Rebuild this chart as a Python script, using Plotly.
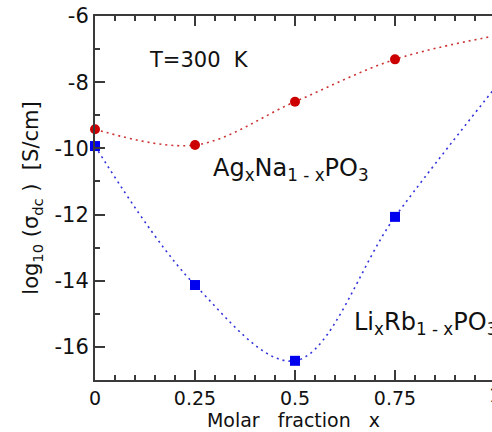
import plotly.graph_objects as go

x_frac = [0, 0.25, 0.5, 0.75, 1.0]
ag_na = [-9.42, -9.90, -8.59, -7.31, -6.60]
li_rb = [-9.93, -14.13, -16.42, -12.07, -8.17]

x_tickvals = [0, 0.25, 0.5, 0.75]
x_ticktext = ["0", "0.25", "0.5", "0.75"]
y_tickvals = [-16, -14, -12, -10, -8, -6]
y_ticktext = ["-16", "-14", "-12", "-10", "-8", "-6"]

FONT = "DejaVu Sans"
AX = "#3a3a3a"

fig = go.Figure()
fig.add_trace(go.Scatter(
    x=x_frac, y=ag_na, mode="lines+markers", line_shape="spline",
    line=dict(color="#cc3333", width=1.6, dash="2px,4px"),
    marker=dict(symbol="circle", size=10, color="#cc0000"),
    cliponaxis=False, showlegend=False))
fig.add_trace(go.Scatter(
    x=x_frac, y=li_rb, mode="lines+markers", line_shape="spline",
    line=dict(color="#3333dd", width=1.6, dash="2px,4px"),
    marker=dict(symbol="square", size=10, color="#0000ee"),
    cliponaxis=False, showlegend=False))

fig.update_layout(
    width=492, height=432,
    margin=dict(l=95, r=0, t=16, b=52),
    paper_bgcolor="white", plot_bgcolor="white",
    font=dict(family=FONT, size=20, color="#111111"),
    xaxis=dict(
        range=[0, 0.9925], showgrid=False, zeroline=False,
        showline=True, linecolor=AX, linewidth=2, mirror="ticks",
        ticks="inside", ticklen=10, tickwidth=1.5, tickcolor=AX,
        tickvals=x_tickvals, ticktext=x_ticktext,
        tickfont=dict(family=FONT, size=19), ticklabelstandoff=0,
        minor=dict(dtick=0.05, ticks="inside", ticklen=5, tickwidth=1.5, tickcolor=AX),
        title=dict(text="Molar\u00a0\u00a0 fraction\u00a0\u00a0 x", font=dict(family=FONT, size=19), standoff=0),
    ),
    yaxis=dict(
        range=[-17, -6], showgrid=False, zeroline=False,
        showline=True, linecolor=AX, linewidth=2, mirror=False,
        ticks="inside", ticklen=10, tickwidth=1.5, tickcolor=AX,
        tickvals=y_tickvals, ticktext=y_ticktext, tickfont=dict(family=FONT, size=21),
        minor=dict(dtick=1, ticks="inside", ticklen=5, tickwidth=1.5, tickcolor=AX),
        title=dict(text="log<sub>10</sub>\u00a0(σ<sub>dc</sub>\u00a0)\u00a0 [S/cm]", font=dict(family=FONT, size=21), standoff=10),
    ),
    annotations=[
        dict(text="1", xref="paper", yref="paper", x=1/0.9925, y=0, yanchor="top",
             xanchor="center", yshift=-2, showarrow=False, font=dict(family=FONT, size=19)),
        dict(text="T=300\u00a0\u00a0K", xref="x", yref="y", x=0.13, y=-7.33, xanchor="left",
             showarrow=False, font=dict(family=FONT, size=21)),
        dict(text="Ag<sub>x</sub>Na<sub>1\u00a0-\u00a0x</sub>PO<sub>3</sub>", xref="x", yref="y",
             x=0.29, y=-10.65, xanchor="left", showarrow=False, font=dict(family=FONT, size=24)),
        dict(text="Li<sub>x</sub>Rb<sub>1\u00a0-\u00a0x</sub>PO<sub>3</sub>", xref="x", yref="y",
             x=0.6425, y=-15.3, xanchor="left", showarrow=False, font=dict(family=FONT, size=24)),
    ],
)

fig.write_html("out.html")
